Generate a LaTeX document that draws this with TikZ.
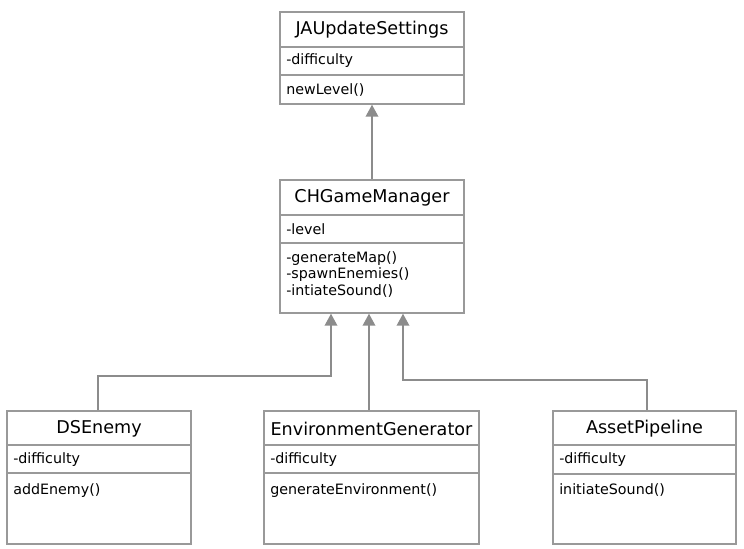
\documentclass[tikz,border=0pt]{standalone}
\usepackage{fontspec}
\setmainfont{DejaVu Sans}
\usetikzlibrary{fit,arrows.meta}
\definecolor{bordergray}{HTML}{999999}
\definecolor{linegray}{HTML}{8C8C8C}
\begin{document}
\begin{tikzpicture}[x=0.75pt,y=-0.75pt,
  classbox/.style={draw=bordergray,line width=1.1pt,inner sep=0pt,fill=white},
  divider/.style={draw=bordergray,line width=1.1pt},
  titletext/.style={font=\fontsize{13.2}{15}\selectfont,inner sep=0pt},
  membertext/.style={font=\fontsize{10.7}{12.4}\selectfont,inner sep=0pt,anchor=west,align=left},
  methodtext/.style={font=\fontsize{10.7}{12.4}\selectfont,inner sep=0pt,anchor=north west,align=left},
  inherit/.style={draw=linegray,line width=1.1pt,-{Triangle[width=9.5pt,length=9pt,fill=linegray]}}
]
\useasboundingbox (0,0) rectangle (744,549);

% JAUpdateSettings
\node[classbox,fit={(280,12)(464,104)}] (ja) {};
\draw[divider] (280,47) -- (464,47);
\draw[divider] (280,75) -- (464,75);
\node[titletext] (jaT) at (372,30) {JAUpdateSettings};
\node[membertext] (jaA) at (286,61) {-difficulty};
\node[methodtext] (jaM) at (286,83) {newLevel()};

% CHGameManager
\node[classbox,fit={(280,180)(464,313)}] (ch) {};
\draw[divider] (280,215) -- (464,215);
\draw[divider] (280,243) -- (464,243);
\node[titletext] (chT) at (372,198) {CHGameManager};
\node[membertext] (chA) at (286,229) {-level};
\node[methodtext] (chM) at (286,251) {-generateMap()\\-spawnEnemies()\\-intiateSound()};

% DSEnemy
\node[classbox,fit={(7,411)(191,544)}] (ds) {};
\draw[divider] (7,445) -- (191,445);
\draw[divider] (7,473) -- (191,473);
\node[titletext] (dsT) at (99,429) {DSEnemy};
\node[membertext] (dsA) at (13,460) {-difficulty};
\node[methodtext] (dsM) at (13,483) {addEnemy()};

% EnvironmentGenerator
\node[classbox,fit={(264,411)(479,544)}] (env) {};
\draw[divider] (264,445) -- (479,445);
\draw[divider] (264,473) -- (479,473);
\node[titletext] (envT) at (371.5,429) {EnvironmentGenerator};
\node[membertext] (envA) at (270,460) {-difficulty};
\node[methodtext] (envM) at (270,483) {generateEnvironment()};

% AssetPipeline
\node[classbox,fit={(553,411)(736,544)}] (ap) {};
\draw[divider] (553,445) -- (736,445);
\draw[divider] (553,474) -- (736,474);
\node[titletext] (apT) at (644.5,429) {AssetPipeline};
\node[membertext] (apA) at (559,460) {-difficulty};
\node[methodtext] (apM) at (559,483) {initiateSound()};

% connectors
\draw[inherit] (ch.north -| 372,0) -- (ja.south -| 372,0);
\draw[inherit] (ds.north -| 98,0) -- (98,376) -- (331,376) -- (ch.south -| 331,0);
\draw[inherit] (env.north -| 369,0) -- (ch.south -| 369,0);
\draw[inherit] (ap.north -| 647,0) -- (647,380) -- (403,380) -- (ch.south -| 403,0);
\end{tikzpicture}
\end{document}
